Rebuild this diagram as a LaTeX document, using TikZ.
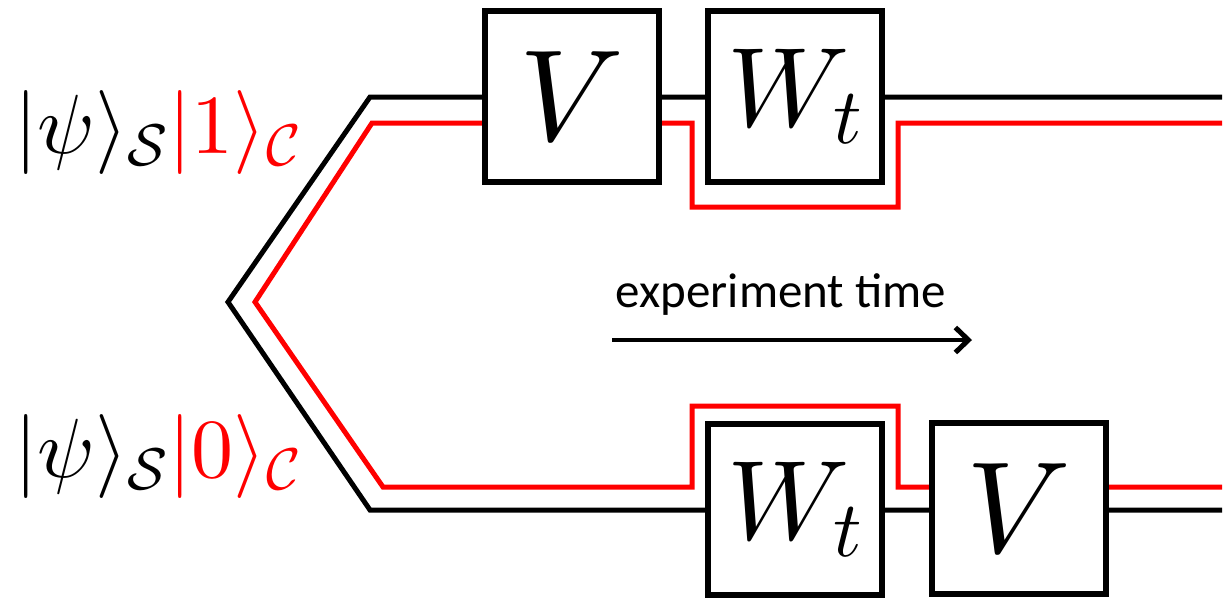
\RequirePackage{fix-cm}
\documentclass[tikz,border=0pt]{standalone}
\usepackage{fontspec}
\newfontfamily\carlito{Carlito}
\usetikzlibrary{arrows.meta,backgrounds}
% design-size 10 glyphs at every size (heavier strokes)
\DeclareFontShape{OML}{cmm}{m}{it}{<->cmmi10}{\skewchar\font127 }
\DeclareFontShape{OMS}{cmsy}{m}{n}{<->cmsy10}{\skewchar\font48 }
\DeclareFontShape{OT1}{cmr}{m}{n}{<->cmr10}{}

\begin{document}
\begin{tikzpicture}[
  x=1pt, y=-1pt,
  box/.style={rectangle, draw=black, line width=6pt, fill=white, minimum width=174pt, minimum height=171pt, inner sep=0pt, font=\fontsize{113}{113}\selectfont},
  bigv/.style={font=\fontsize{130}{130}\selectfont},
  wire/.style={line width=5pt, draw=black},
  redwire/.style={line width=5pt, draw=red},
  ket/.style={anchor=base west, inner sep=0pt, font=\fontsize{84}{84}\selectfont},
  arrow/.style={-{Straight Barb[length=13pt, width=25pt, line width=5pt]}, line width=4.5pt}
]
\useasboundingbox (0,0) rectangle (1230,606);

% --- GATES (upper and lower branch) ---
\node[box, bigv] (vtop) at (572,96) {$V$};
\node[box] (wtop) at (795,96) {$W_t$};
\node[box] (wbot) at (795,509) {$W_t$};
\node[box, bigv] (vbot) at (1019,508) {$V$};

% --- STATE LABELS ---
\node[ket] (kettop) at (14,153) {$|\psi\rangle_{\mathcal{S}}{\color{red}|1\rangle_{\mathcal{C}}}$};
\node[ket] (ketbot) at (14,477) {$|\psi\rangle_{\mathcal{S}}{\color{red}|0\rangle_{\mathcal{C}}}$};

% --- WIRE CORNERS ---
\coordinate (split) at (228,302);
\coordinate (splitred) at (255,302);
\coordinate (topturn) at (370,97);
\coordinate (topturnred) at (372,123);
\coordinate (botturn) at (370,510);
\coordinate (botturnred) at (383,487);
\coordinate (topout) at (1222,97);
\coordinate (topoutred) at (1222,123);
\coordinate (botout) at (1222,510);
\coordinate (botoutred) at (1222,487);

% --- WIRES (behind the gates) ---
\begin{scope}[on background layer]
\draw[wire] (topout) -- (topturn) -- (split) -- (botturn) -- (botout);
\draw[redwire] (topoutred) -- (898,123) -- (898,207) -- (692,207) -- (692,123)
      -- (topturnred) -- (splitred) -- (botturnred) -- (692,487) -- (692,406)
      -- (898,406) -- (898,487) -- (botoutred);
\end{scope}

% --- TIME ARROW ---
\coordinate (tstart) at (612,340);
\coordinate (tstop) at (972,340);
\draw[arrow] (tstart) -- (tstop);
\node[font=\carlito\fontsize{49}{49}\selectfont, anchor=base, inner sep=0pt] (timelbl) at (781,307) {experiment time};

\end{tikzpicture}
\end{document}
